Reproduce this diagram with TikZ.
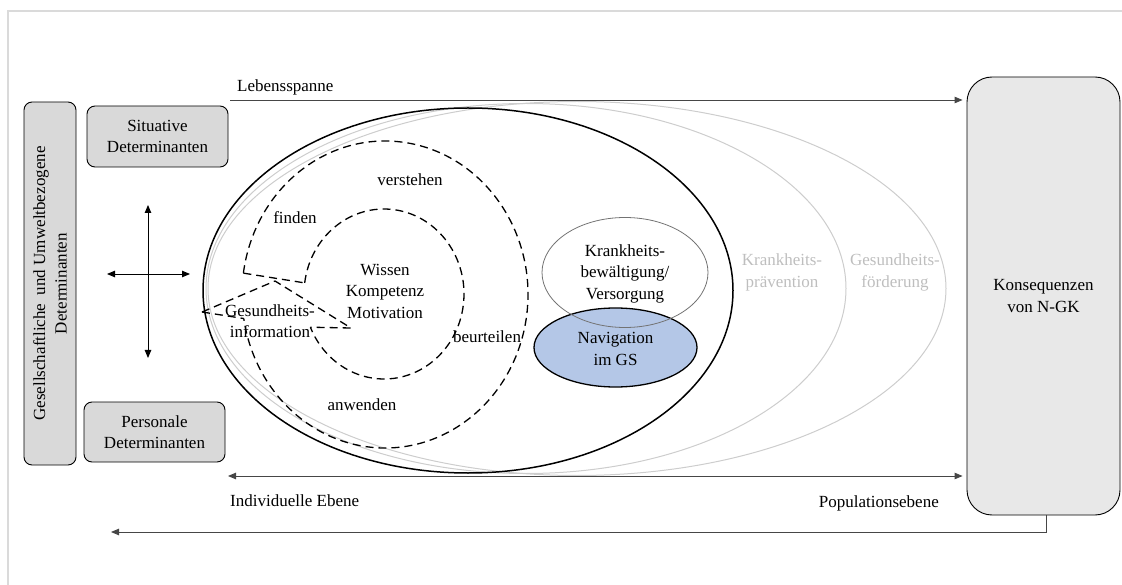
\documentclass[tikz,border=0pt]{standalone}
\usepackage{fontspec}
\setmainfont{Liberation Serif}
\usetikzlibrary{arrows.meta,calc}
\newcommand\dgfont{\fontsize{17}{21.5}\selectfont}
\definecolor{boxfill}{RGB}{217,217,217}
\definecolor{konsfill}{RGB}{232,232,232}
\definecolor{navblue}{RGB}{180,199,231}
\definecolor{ghostline}{RGB}{205,205,205}
\definecolor{ghosttext}{RGB}{190,190,190}
\definecolor{framegray}{RGB}{218,218,218}
\definecolor{linegray}{RGB}{70,70,70}
\tikzset{
  lbl/.style={font=\dgfont, inner sep=0pt, align=center},
  dbox/.style={draw, line width=0.9pt, rounded corners=8pt, fill=boxfill,
    inner sep=0pt, align=center, font=\dgfont},
  dashline/.style={line width=1.3pt, dash pattern=on 8pt off 5pt},
  tip/.style={-{Triangle[length=8pt,width=6.5pt]}},
  conn/.style={line width=0.9pt, draw=linegray, tip},
  both/.style={line width=0.9pt, {Triangle[length=8pt,width=6.5pt]}-{Triangle[length=8pt,width=6.5pt]}},
  ghost/.style={line width=1pt, draw=ghostline},
}
\begin{document}
\begin{tikzpicture}[x=1pt, y=-1pt]
\useasboundingbox (0,0) rectangle (1122,585);
% page frame
\draw[framegray, line width=1.5pt] (1122,11) -- (8,11) -- (8,585);

% determinant boxes
\node[dbox, rotate=90, minimum width=363pt, minimum height=52pt] (soc) at (50,283.5)
  {Gesellschaftliche\ \ und Umweltbezogene\\Determinanten};
\node[dbox, minimum width=141pt, minimum height=61pt] (sit) at (157.5,136.5)
  {Situative\\Determinanten};
\node[dbox, minimum width=141pt, minimum height=60pt] (pers) at (154.5,432)
  {Personale\\Determinanten};
\node[dbox, fill=konsfill, rounded corners=25pt, minimum width=153pt,
  minimum height=438pt] (kons) at (1043.5,296) {Konsequenzen\\von N-GK};

% cross of arrows between the determinants
\coordinate (vtop) at (148,205);
\coordinate (vbot) at (148,358);
\coordinate (hleft) at (107,274);
\coordinate (hright) at (190,274);
\draw[both] (vtop) -- (vbot);
\draw[both] (hleft) -- (hright);

% outer health-literacy fields
\draw[ghost] (577,288.5) ellipse[x radius=369, y radius=187];
\draw[ghost] (526,288.5) ellipse[x radius=320, y radius=185];
\node[lbl, text=ghosttext] (praev) at (782,272.5) {Krankheits-\\prävention};
\node[lbl, text=ghosttext] (foerd) at (895,272.5) {Gesundheits-\\förderung};

% disease management field
\draw[line width=1.5pt] (468,290.5) ellipse[x radius=265, y radius=182.5];
\draw[line width=1.3pt, fill=navblue] (615.5,347.5) ellipse[x radius=81.5, y radius=39.5];
\draw[line width=0.8pt, draw=black!55] (625,272.5) ellipse[x radius=83, y radius=55];
\node[lbl] (kb) at (625,273.5) {Krankheits-\\bewältigung/\\Versorgung};
\node[lbl] (nav) at (615.5,349) {Navigation\\im GS};

% information processing rings
\coordinate (oc) at (385,294.5);
\coordinate (ic) at (384,294);
\draw[dashline] (oc) ++(-172:143 and 153.5) coordinate (oS)
  arc[start angle=-172, end angle=171, x radius=143, y radius=153.5] coordinate (oE);
\draw[dashline] (ic) ++(-172.5:80 and 85) coordinate (iS)
  arc[start angle=-172.5, end angle=157, x radius=80, y radius=85] coordinate (iE);
\coordinate (apex) at (275,281);
\coordinate (edge) at (202,312);
\coordinate (tipR) at (351,328);
\draw[dashline] (oS) -- (iS);
\draw[dashline] (edge) -- (apex) -- (tipR) -- (iE);
\draw[dashline] (edge) -- (oE);

\node[lbl] (wkm) at (385,291) {Wissen\\Kompetenz\\Motivation};
\node[lbl] (ginfo) at (270,321) {Gesundheits-\\information};
\node[lbl] (find) at (295,218) {finden};
\node[lbl] (verst) at (410,180) {verstehen};
\node[lbl] (beurt) at (487,337) {beurteilen};
\node[lbl] (anw) at (362,405) {anwenden};

% life span and level axes
\coordinate (lsStart) at (230,100);
\coordinate (ieStart) at (228,476);
\coordinate (fbEnd) at (111,532);
\draw[conn, shorten >=4pt] (lsStart) -- (lsStart -| kons.west);
\draw[line width=0.9pt, draw=linegray, {Triangle[length=8pt,width=6.5pt]}-{Triangle[length=8pt,width=6.5pt]}, shorten >=4pt]
  (ieStart) -- (ieStart -| kons.west);
\draw[conn] ([xshift=2.5pt]kons.south) |- (fbEnd);

\node[lbl, anchor=west] (ls) at (237,87) {Lebensspanne};
\node[lbl, anchor=west] (ind) at (230,501) {Individuelle Ebene};
\node[lbl, anchor=east] (pop) at (939,503) {Populationsebene};
\end{tikzpicture}
\end{document}
